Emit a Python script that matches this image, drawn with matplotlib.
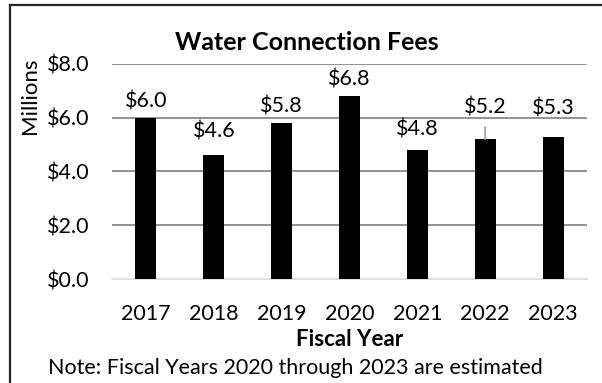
import matplotlib
matplotlib.use("Agg")
import matplotlib.pyplot as plt
from matplotlib.lines import Line2D
from matplotlib.ticker import FuncFormatter

years = ["2017", "2018", "2019", "2020", "2021", "2022", "2023"]
fees = [6.0, 4.6, 5.8, 6.8, 4.8, 5.2, 5.3]
y_ticks = [0.0, 2.0, 4.0, 6.0, 8.0]

# label lift above each bar, in points (2022 is pulled up on a leader line)
label_lift = [12, 17, 12, 12, 15, 23, 20]

plt.rcParams.update({"font.family": ["Lato", "DejaVu Sans"], "font.size": 15.5})

fig = plt.figure(figsize=(6.02, 3.83), dpi=100)
ax = fig.add_axes([0.186, 0.2715, 0.789, 0.5615])

x = range(len(years))
ax.bar(x, fees, width=0.31, color="black", zorder=3)

for i, v in enumerate(fees):
    arrow = None
    if years[i] == "2022":
        arrow = dict(arrowstyle="-", color="#a6a6a6", lw=1.3, shrinkA=5, shrinkB=0)
    ax.annotate(f"${v:.1f}", xy=(i, v), xytext=(0, label_lift[i]),
                textcoords="offset points", ha="center", va="center",
                fontsize=15.5, color="black", arrowprops=arrow, zorder=4)

ax.set_ylim(0, 8)
ax.set_xlim(-0.5, len(years) - 0.5)
ax.set_yticks(y_ticks)
ax.yaxis.set_major_formatter(FuncFormatter(lambda v, _: f"${v:.1f}"))
ax.set_xticks(list(x))
ax.set_xticklabels(years)
ax.tick_params(length=0, labelsize=15.5, colors="black")
ax.tick_params(axis="y", pad=16)
ax.tick_params(axis="x", pad=18)

for sp in ["top", "right", "left"]:
    ax.spines[sp].set_visible(False)
ax.spines["bottom"].set_color("#d9d9d9")
ax.spines["bottom"].set_linewidth(1.2)
ax.grid(axis="y", color="#7f7f7f", linewidth=1.2, zorder=1)
ax.grid(axis="x", visible=False)
# the zero line stays light; hide its grid line
ax.yaxis.get_gridlines()[0].set_visible(False)

ax.set_xlabel("Fiscal Year", fontsize=16, fontweight="bold", labelpad=3.5)
fig.text(0.05, 0.75, "Millions", rotation=90, ha="center", va="center", fontsize=16)
fig.text(0.51, 0.888, "Water Connection Fees", ha="center", va="center",
         fontsize=18, fontweight="bold")
fig.text(0.49, 0.04, "Note: Fiscal Years 2020 through 2023 are estimated",
         ha="center", va="center", fontsize=15.5)

# open frame: top and left edges only
fig.add_artist(Line2D([0.0166, 1.0], [0.987, 0.987], color="#262626", lw=1.6,
                      transform=fig.transFigure))
fig.add_artist(Line2D([0.0166, 0.0166], [0.0, 0.987], color="#262626", lw=1.6,
                      transform=fig.transFigure))

fig.savefig("out.png", dpi=100, facecolor="white")
